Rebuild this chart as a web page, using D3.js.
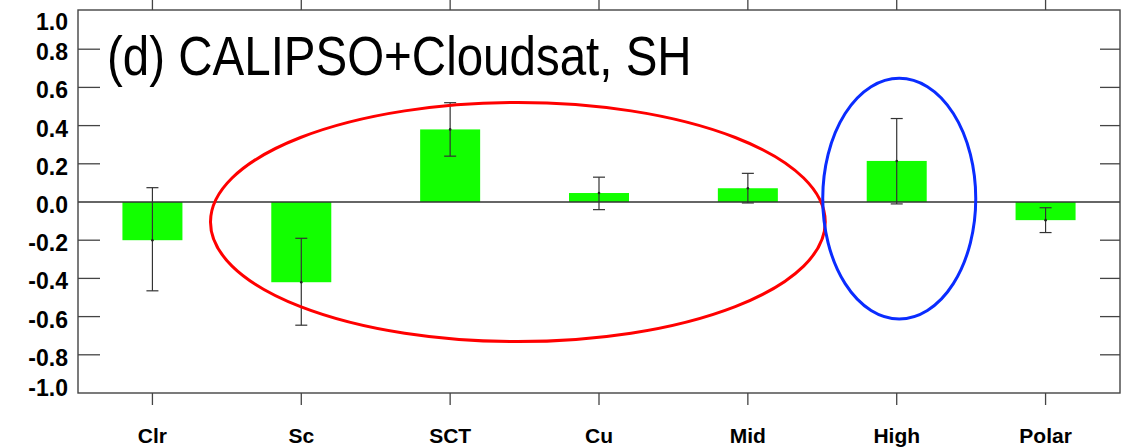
<!DOCTYPE html>
<html>
<head>
<meta charset="utf-8">
<script src="https://cdn.jsdelivr.net/npm/d3@7"></script>
<style>
  html, body { margin: 0; padding: 0; background: #fff; }
  svg { display: block; }
</style>
</head>
<body>
<svg id="chart" width="1127" height="448"></svg>
<script>
// ---- data ----
const categories = ["Clr", "Sc", "SCT", "Cu", "Mid", "High", "Polar"];
const values     = [-0.20, -0.42, 0.38, 0.047, 0.072, 0.215, -0.095];
const errLow     = [-0.465, -0.645, 0.24, -0.04, -0.005, -0.01, -0.16];
const errHigh    = [0.075, -0.19, 0.52, 0.13, 0.15, 0.437, -0.03];
const yTicks     = [-1.0, -0.8, -0.6, -0.4, -0.2, 0.0, 0.2, 0.4, 0.6, 0.8, 1.0];
const titleText  = "(d) CALIPSO+Cloudsat, SH";
// ellipse annotations in data units: centre (category-band units, value), radii
const ellipses = [
  { cx: 2.955, cy: -0.105, rx: 2.065, ry: 0.626, color: "#ff0000" },
  { cx: 5.517, cy: 0.018, rx: 0.514, ry: 0.630, color: "#0a2cff" }
];

// ---- layout ----
const L = 78, R = 1120, T = 11, B = 393;
const svg = d3.select("#chart");

const x = d3.scaleBand().domain(categories).range([L, R]).paddingInner(0.6).paddingOuter(0.3);
const xc = d3.scaleBand().domain(categories).range([L, R]);   // for centres
const xu = d3.scaleLinear().domain([0, categories.length]).range([L, R]); // band units
const y = d3.scaleLinear().domain([-1, 1]).range([B, T]);

// bars
svg.append("g").selectAll("rect").data(categories).join("rect")
  .attr("x", (d, i) => xc(d) + xc.bandwidth() / 2 - 30)
  .attr("width", 60)
  .attr("y", (d, i) => y(Math.max(0, values[i])))
  .attr("height", (d, i) => Math.abs(y(values[i]) - y(0)))
  .attr("fill", "#12ff00");

// zero line
svg.append("line")
  .attr("x1", L).attr("x2", R).attr("y1", y(0)).attr("y2", y(0))
  .attr("stroke", "#333").attr("stroke-width", 1.3);

// error bars
const eb = svg.append("g").attr("stroke", "#333").attr("stroke-width", 1.2);
categories.forEach((c, i) => {
  const cx = xc(c) + xc.bandwidth() / 2;
  eb.append("line").attr("x1", cx).attr("x2", cx).attr("y1", y(errLow[i])).attr("y2", y(errHigh[i]));
  eb.append("line").attr("x1", cx - 6).attr("x2", cx + 6).attr("y1", y(errLow[i])).attr("y2", y(errLow[i]));
  eb.append("line").attr("x1", cx - 6).attr("x2", cx + 6).attr("y1", y(errHigh[i])).attr("y2", y(errHigh[i]));
  svg.append("circle").attr("cx", cx).attr("cy", y(values[i])).attr("r", 1.3).attr("fill", "#222");
});

// frame
svg.append("rect").attr("x", L).attr("y", T - 1).attr("width", R - L).attr("height", B - T + 1)
  .attr("fill", "none").attr("stroke", "#444").attr("stroke-width", 1.4);

// y ticks (inward both sides)
const inner = yTicks.filter(v => Math.abs(v) < 0.999 && v !== 0);
const tk = svg.append("g").attr("stroke", "#444").attr("stroke-width", 1.3);
inner.forEach(v => {
  tk.append("line").attr("x1", L).attr("x2", L + 22).attr("y1", y(v)).attr("y2", y(v));
  tk.append("line").attr("x1", R - 20).attr("x2", R).attr("y1", y(v)).attr("y2", y(v));
});
// x ticks outward top and bottom
categories.forEach(c => {
  const cx = xc(c) + xc.bandwidth() / 2;
  tk.append("line").attr("x1", cx).attr("x2", cx).attr("y1", B).attr("y2", B + 12);
  tk.append("line").attr("x1", cx).attr("x2", cx).attr("y1", T - 1).attr("y2", 0);
});

// y labels
svg.append("g").selectAll("text").data(yTicks).join("text")
  .attr("x", 68)
  .attr("y", v => y(v) + 5 + (v >= 0.999 ? 8 : v <= -0.999 ? -8 : 0))
  .attr("text-anchor", "end")
  .attr("dominant-baseline", "middle")
  .attr("font-family", "Liberation Sans, Arial, sans-serif")
  .attr("font-weight", "bold")
  .attr("font-size", 23)
  .attr("fill", "#000")
  .text(v => v.toFixed(1));

// x labels
svg.append("g").selectAll("text").data(categories).join("text")
  .attr("x", c => xc(c) + xc.bandwidth() / 2)
  .attr("y", 443)
  .attr("text-anchor", "middle")
  .attr("font-family", "Liberation Sans, Arial, sans-serif")
  .attr("font-weight", "bold")
  .attr("font-size", 21)
  .attr("fill", "#000")
  .text(c => c);

// title
svg.append("text")
  .attr("transform", "translate(107,75) scale(1,1.17)")
  .attr("font-family", "Liberation Sans, Arial, sans-serif")
  .attr("font-size", 47.5)
  .attr("fill", "#000")
  .text(titleText);

// ellipses
svg.append("g").selectAll("ellipse").data(ellipses).join("ellipse")
  .attr("cx", d => xu(d.cx))
  .attr("cy", d => y(d.cy))
  .attr("rx", d => xu(d.rx) - xu(0))
  .attr("ry", d => y(0) - y(d.ry))
  .attr("fill", "none")
  .attr("stroke", d => d.color)
  .attr("stroke-width", 3);
</script>
</body>
</html>
